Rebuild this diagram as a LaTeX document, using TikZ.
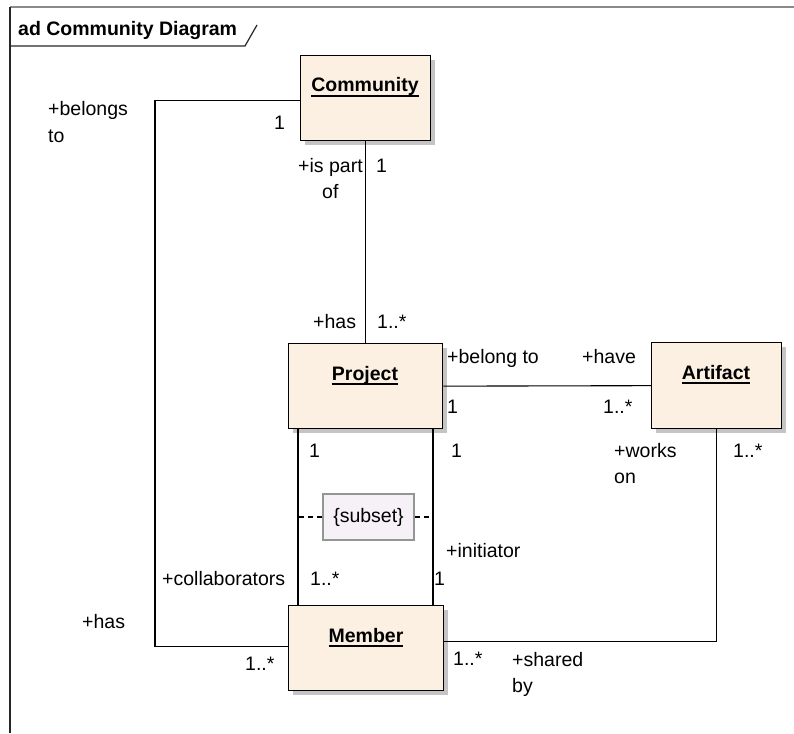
\documentclass[tikz,border=0pt]{standalone}
\usepackage{fontspec}
\setmainfont{Liberation Sans}
\usetikzlibrary{shadows}
\definecolor{classfill}{HTML}{FBF0E2}
\definecolor{notefill}{HTML}{F6F1F6}
\definecolor{noteline}{HTML}{959595}
\definecolor{shadowgray}{HTML}{C4C4C4}
\definecolor{framegray}{HTML}{8A8A8A}
% class name, bold with a rule set a fixed distance under the baseline
\newcommand\clsname[1]{\setbox0\hbox{\bfseries #1}\rlap{\rule[-5pt]{\wd0}{1.6pt}}\box0}
\begin{document}
\begin{tikzpicture}[x=1pt,y=-1pt,
  classbox/.style={draw=black, line width=1.3pt, fill=classfill, inner sep=0pt,
    anchor=north west, drop shadow={shadow xshift=4pt, shadow yshift=-4pt, fill=shadowgray, opacity=1}},
  clsname/.style={anchor=base, inner sep=0pt, font=\fontsize{19.5}{23}\selectfont},
  lbl/.style={anchor=base west, inner sep=0pt, font=\fontsize{19.5}{23}\selectfont},
  assoc/.style={draw=black, line width=1.1pt},
  notebox/.style={draw=noteline, line width=1.2pt, fill=notefill, inner sep=0pt,
    minimum width=91pt, minimum height=46pt, font=\fontsize{19.5}{23}\selectfont},
  constraint/.style={draw=black, line width=1.1pt, dash pattern=on 5pt off 4pt}]
\useasboundingbox (0,0) rectangle (794,733);

% diagram frame with its name tab
\draw[framegray, line width=1.6pt] (10,7) -- (794,7);
\draw[black!85, line width=1.4pt] (10,7) -- (10,733);
\draw[black!85, line width=1.2pt] (10,46) -- (245,46) -- (257,25);
\node[anchor=base west, inner sep=0pt, font=\fontsize{19.5}{23}\selectfont\bfseries] (title) at (18,36) {ad Community Diagram};

% classes
\node[classbox, minimum width=130pt, minimum height=85pt] (community) at (300,55) {};
\node[classbox, minimum width=154pt, minimum height=85pt] (project) at (288,343) {};
\node[classbox, minimum width=130pt, minimum height=86pt] (artifact) at (651,342) {};
\node[classbox, minimum width=155pt, minimum height=85pt] (member) at (288,605) {};
\node[clsname] (communityname) at (365,92) {\clsname{Community}};
\node[clsname] (projectname) at (365,380) {\clsname{Project}};
\node[clsname] (artifactname) at (716,379) {\clsname{Artifact}};
\node[clsname] (membername) at (366,642) {\clsname{Member}};

% guide lines for the rails
\coordinate (leftrail) at (155,0);
\coordinate (colx) at (298,0);
\coordinate (initx) at (433,0);

% associations
\draw[assoc] (community.south) -- (project.north);
\draw[assoc] ([yshift=-2pt]community.west) -- ([yshift=-2pt]community.west -| leftrail) |- ([yshift=2pt]member.west);
\draw[assoc] (project.east) -- (artifact.west);
\draw[assoc] (project.south -| colx) -- (member.north -| colx);
\draw[assoc] (project.south -| initx) -- (member.north -| initx);
\draw[assoc] ([yshift=7pt]member.east) -| (artifact.south);

% subset constraint between the two member associations
\node[notebox] (subset) at (368.5,517) {\{subset\}};
\draw[constraint] (subset.west) -- (subset.west -| colx);
\draw[constraint] (subset.east) -- (subset.east -| initx);

% role names and multiplicities
\node[lbl] (l1) at (48,116) {+belongs};
\node[lbl] (l2) at (48,142) {to};
\node[lbl] (l3) at (274,129) {1};
\node[lbl] (l4) at (298,172) {+is part};
\node[lbl] (l5) at (322,198) {of};
\node[lbl] (l6) at (376,172) {1};
\node[lbl] (l7) at (313,328) {+has};
\node[lbl] (l8) at (377,328) {1..*};
\node[lbl] (l9) at (447,363) {+belong to};
\node[lbl] (l10) at (582,363) {+have};
\node[lbl] (l11) at (447,413) {1};
\node[lbl] (l12) at (603,413) {1..*};
\node[lbl] (l13) at (614,457) {+works};
\node[lbl] (l14) at (614,483) {on};
\node[lbl] (l15) at (733,457) {1..*};
\node[lbl] (l16) at (309,457) {1};
\node[lbl] (l17) at (451,457) {1};
\node[lbl] (l18) at (446,557) {+initiator};
\node[lbl] (l19) at (162,585) {+collaborators};
\node[lbl] (l20) at (310,585) {1..*};
\node[lbl] (l21) at (434,585) {1};
\node[lbl] (l22) at (82,628) {+has};
\node[lbl] (l23) at (245,670) {1..*};
\node[lbl] (l24) at (453,665) {1..*};
\node[lbl] (l25) at (512,666) {+shared};
\node[lbl] (l26) at (512,692) {by};
\end{tikzpicture}
\end{document}
